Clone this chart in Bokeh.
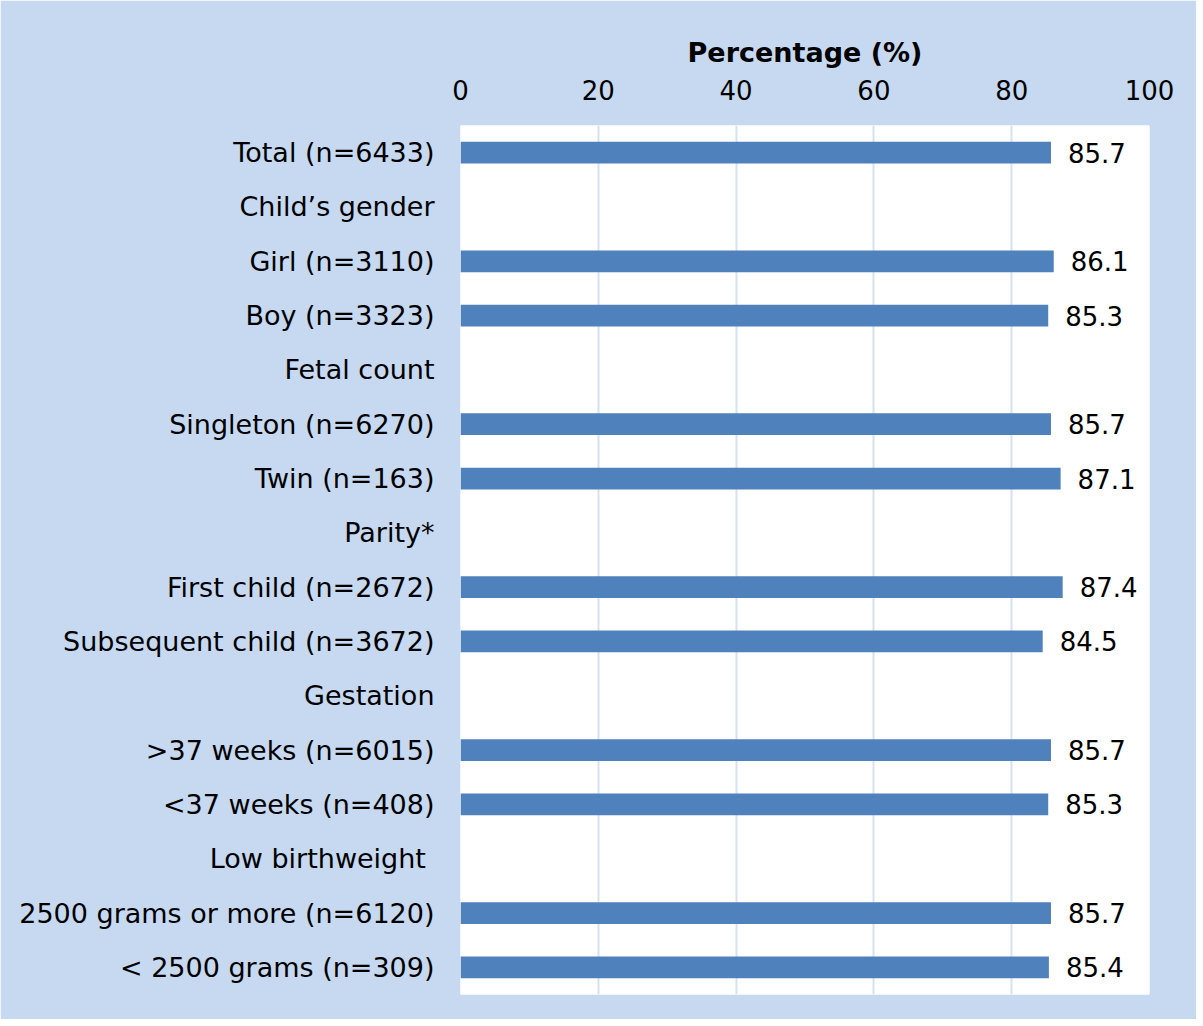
from bokeh.plotting import figure
from bokeh.models import ColumnDataSource, FactorRange, Range1d, FixedTicker
from bokeh.core.properties import value
from bokeh.embed import file_html
from bokeh.resources import INLINE

categories = [
    "Total (n=6433)",
    "Child\u2019s gender",
    "Girl (n=3110)",
    "Boy (n=3323)",
    "Fetal count",
    "Singleton (n=6270)",
    "Twin (n=163)",
    "Parity*",
    "First child (n=2672)",
    "Subsequent child (n=3672)",
    "Gestation",
    ">37 weeks (n=6015)",
    "<37 weeks (n=408)",
    "Low birthweight\u00a0",
    "2500 grams or more (n=6120)",
    "< 2500 grams (n=309)",
]
values = [85.7, None, 86.1, 85.3, None, 85.7, 87.1, None, 87.4, 84.5, None, 85.7, 85.3, None, 85.7, 85.4]
x_ticks = [0, 20, 40, 60, 80, 100]

FONT = "DejaVu Sans"
BAR = "#4F81BD"
BG = "#C6D9F1"

bar_cats = [c for c, v in zip(categories, values) if v is not None]
bar_vals = [v for v in values if v is not None]
src = ColumnDataSource(dict(cat=bar_cats, val=bar_vals, lab=[f"{v:.1f}" for v in bar_vals]))

p = figure(
    width=1196, height=1019,
    y_range=FactorRange(*reversed(categories)),
    x_range=Range1d(0, 100),
    x_axis_location="above",
    output_backend="svg", toolbar_location=None,
    min_border_left=460, min_border_top=125, min_border_right=47, min_border_bottom=25,
)
p.background_fill_color = "white"
p.border_fill_color = BG
p.outline_line_color = None

p.hbar(y="cat", right="val", left=0, height=0.4, source=src, fill_color=BAR, line_color=None)
p.text(x="val", y="cat", text="lab", source=src, x_offset=17, text_baseline="middle",
       text_align="left", text_font=value(FONT), text_font_size="26px", text_color="black")

p.xaxis.ticker = FixedTicker(ticks=x_ticks)
p.xaxis.axis_label = "Percentage (%)"
p.xaxis.axis_label_text_font = FONT
p.xaxis.axis_label_text_font_style = "bold"
p.xaxis.axis_label_text_font_size = "27px"
p.xaxis.axis_label_text_color = "black"
p.xaxis.axis_label_standoff = 9
p.xaxis.major_label_text_font = FONT
p.xaxis.major_label_text_font_size = "26px"
p.xaxis.major_label_text_color = "black"
p.xaxis.major_label_standoff = 26
p.xaxis.major_tick_out = 0
p.xaxis.major_tick_in = 0
p.xaxis.axis_line_color = None
p.xaxis.major_tick_line_color = None
p.xaxis.minor_tick_line_color = None

p.yaxis.major_label_text_font = FONT
p.yaxis.major_label_text_font_size = "27px"
p.yaxis.major_label_text_color = "black"
p.yaxis.major_label_standoff = 26
p.yaxis.major_tick_out = 0
p.yaxis.major_tick_in = 0
p.yaxis.axis_line_color = None
p.yaxis.major_tick_line_color = None
p.yaxis.minor_tick_line_color = None

p.xgrid.grid_line_color = "#D6E2F1"
p.xgrid.grid_line_width = 2
p.ygrid.grid_line_color = None

open("out.html", "w").write(file_html(p, INLINE))
